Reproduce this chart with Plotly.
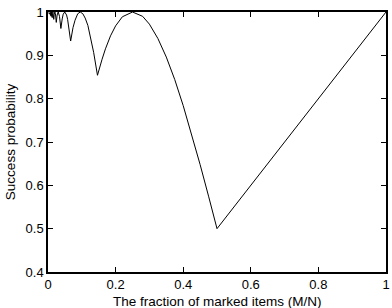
import plotly.graph_objects as go

# Success probability vs fraction of marked items
frac = [0.0005, 0.002, 0.0035, 0.0045, 0.0051, 0.0058, 0.0062, 0.0068, 0.0076, 0.0085, 0.0096,
        0.0109, 0.0125, 0.0135, 0.0146, 0.0158, 0.0170, 0.0185, 0.0203, 0.0220, 0.0245,
        0.0270, 0.0302, 0.0340, 0.0381, 0.0420, 0.0450, 0.0495, 0.0550, 0.0580, 0.0610,
        0.0670, 0.0740, 0.0800, 0.0880, 0.0955, 0.1030, 0.1100, 0.1180, 0.1250, 0.1350,
        0.1464, 0.1530, 0.1600, 0.1700, 0.1850, 0.2000, 0.2200, 0.2500, 0.2800, 0.3000,
        0.3250, 0.3500, 0.3750, 0.4000, 0.4250, 0.4500, 0.4750, 0.5000, 1.0000]
prob = [0.999, 0.997, 0.998, 0.996, 0.995, 0.999, 0.994, 0.999, 0.992, 1.000, 0.990,
        1.000, 0.987, 0.997, 1.000, 0.995, 0.983, 0.995, 1.000, 0.996, 0.976,
        0.993, 1.000, 0.990, 0.962, 0.984, 0.995, 1.000, 0.993, 0.983, 0.969,
        0.933, 0.964, 0.981, 0.996, 1.000, 0.996, 0.986, 0.969, 0.945, 0.907,
        0.854, 0.875, 0.891, 0.915, 0.945, 0.968, 0.989, 1.000, 0.990, 0.972,
        0.939, 0.896, 0.844, 0.784, 0.718, 0.648, 0.575, 0.500, 1.000]

x_ticks = [0, 0.2, 0.4, 0.6, 0.8, 1]
x_labels = ["0", "0.2", "0.4", "0.6", "0.8", "1"]
y_ticks = [0.4, 0.5, 0.6, 0.7, 0.8, 0.9, 1]
y_labels = ["0.4", "0.5", "0.6", "0.7", "0.8", "0.9", "1"]

FONT = "Liberation Sans, Arial"

fig = go.Figure(go.Scatter(x=frac, y=prob, mode="lines",
                           line=dict(color="black", width=1)))

axis_common = dict(showgrid=False, zeroline=False, showline=True, linecolor="black",
                   linewidth=1.5, mirror="ticks", ticks="inside", ticklen=5,
                   tickcolor="black", tickwidth=1, automargin=False,
                   tickfont=dict(family=FONT, size=13, color="black"))

fig.update_layout(
    width=392, height=308,
    margin=dict(l=48, r=6, t=12, b=36, autoexpand=False),
    paper_bgcolor="white", plot_bgcolor="white",
    showlegend=False,
    font=dict(family=FONT, size=13, color="black"),
    xaxis=dict(range=[0, 1], tickvals=x_ticks, ticktext=x_labels, **axis_common),
    yaxis=dict(range=[0.4, 1], tickvals=y_ticks, ticktext=y_labels,
               title=dict(text="Success probability", standoff=7,
                          font=dict(family=FONT, size=13.5)),
               **axis_common),
    annotations=[dict(text="The fraction of marked items (M/N)", xref="paper", yref="paper",
                      x=0.5, y=0, xanchor="center", yanchor="top", yshift=-20,
                      showarrow=False, font=dict(family=FONT, size=13.5, color="black"))],
)

fig.write_html("out.html")
